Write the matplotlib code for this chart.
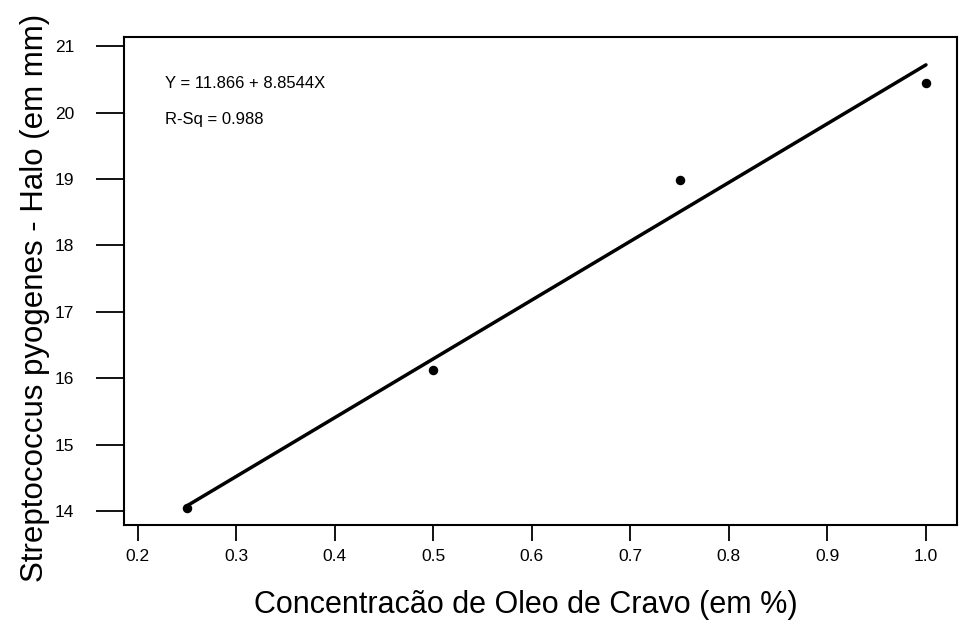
import numpy as np
import matplotlib
matplotlib.use('Agg')
import matplotlib.pyplot as plt

plt.rcParams['font.family'] = ['Liberation Sans', 'DejaVu Sans']

# concentracao (%) e halo medido (mm)
conc = [0.25, 0.50, 0.75, 1.00]
halo = [14.05, 16.13, 18.98, 20.45]

# reta ajustada
intercept = 11.866
slope = 8.8544
r_sq = 0.988

x_ticks = [0.2, 0.3, 0.4, 0.5, 0.6, 0.7, 0.8, 0.9, 1.0]
x_labels = ['0.2', '0.3', '0.4', '0.5', '0.6', '0.7', '0.8', '0.9', '1.0']
y_ticks = [14, 15, 16, 17, 18, 19, 20, 21]

fig = plt.figure(figsize=(9.59, 6.33), dpi=100)
ax = fig.add_axes([124 / 959, 1 - 525 / 633, (957 - 124) / 959, (525 - 37) / 633])

xf = np.array([min(conc), max(conc)])
ax.plot(xf, intercept + slope * xf, color='black', linewidth=2.5, solid_capstyle='round')
ax.scatter(conc, halo, s=34, color='black', zorder=3)

ax.set_xlim(0.186, 1.0315)
ax.set_ylim(13.79, 21.14)
ax.set_xticks(x_ticks)
ax.set_xticklabels(x_labels, fontsize=12.5)
ax.set_yticks(y_ticks)
ax.set_yticklabels([str(v) for v in y_ticks], fontsize=12.5)

for s in ax.spines.values():
    s.set_linewidth(1.5)
ax.tick_params(axis='x', direction='out', length=11.5, width=1.3, pad=6)
ax.tick_params(axis='y', direction='out', length=20, width=1.3, pad=16)

ax.text(0.049, 0.905, 'Y = 11.866 + 8.8544X', transform=ax.transAxes,
        fontsize=12, va='center', ha='left')
ax.text(0.049, 0.83, f'R-Sq = {r_sq}', transform=ax.transAxes,
        fontsize=12, va='center', ha='left')

ax.set_xlabel('Concentracão de Oleo de Cravo (em %)', fontsize=22)
ax.set_ylabel('Streptococcus pyogenes - Halo (em mm)', fontsize=22.5)
ax.xaxis.set_label_coords(0.4826, -0.133)
ax.yaxis.set_label_coords(-0.0888, 0.466)

fig.savefig('out.png', dpi=100)
